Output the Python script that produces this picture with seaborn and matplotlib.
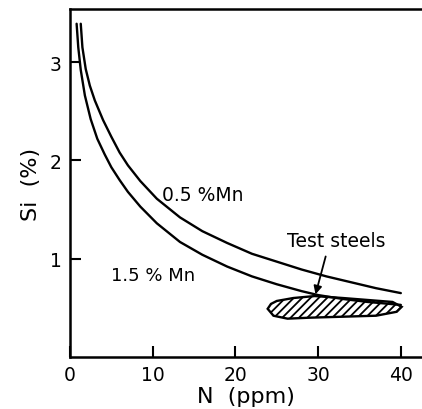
import matplotlib
matplotlib.use("Agg")
import matplotlib.pyplot as plt
import seaborn as sns
import pandas as pd

# 0.5 % Mn curve
n_05 = [1.3, 1.5, 1.9, 2.4, 3.0, 4.0, 5.0, 6.0, 7.0, 8.5, 10.5, 13.3, 16, 19, 22, 25, 28, 31, 34, 37, 40]
si_05 = [3.39, 3.15, 2.93, 2.76, 2.61, 2.41, 2.24, 2.08, 1.95, 1.79, 1.61, 1.42, 1.28, 1.16, 1.05, 0.97, 0.89, 0.82, 0.76, 0.70, 0.65]
# 1.5 % Mn curve
n_15 = [0.8, 1.0, 1.3, 1.8, 2.5, 3.3, 4.2, 5.0, 6.0, 7.0, 8.5, 10.5, 13.3, 16, 19, 22, 25, 28, 30, 33, 36, 40]
si_15 = [3.39, 3.15, 2.92, 2.66, 2.42, 2.22, 2.06, 1.93, 1.80, 1.68, 1.53, 1.36, 1.17, 1.04, 0.92, 0.82, 0.74, 0.67, 0.63, 0.59, 0.56, 0.53]
# test steels region outline
blob_n = [23.9, 24.3, 25.0, 27.0, 29.6, 33.0, 36.0, 39.0, 40.1, 39.5, 37.0, 33.0, 29.0, 26.3, 24.6, 23.9]
blob_si = [0.49, 0.54, 0.57, 0.60, 0.62, 0.60, 0.58, 0.56, 0.51, 0.46, 0.42, 0.41, 0.40, 0.39, 0.42, 0.49]

x_ticks = [0, 10, 20, 30, 40]
y_ticks = [1, 2, 3]

df = pd.concat([
    pd.DataFrame({"N": n_05, "Si": si_05, "Mn": "0.5"}),
    pd.DataFrame({"N": n_15, "Si": si_15, "Mn": "1.5"}),
])

sns.set_style("white")
plt.rcParams['font.family'] = ['DejaVu Sans']
plt.rcParams['text.color'] = 'black'
plt.rcParams['axes.labelcolor'] = 'black'
plt.rcParams['hatch.linewidth'] = 1.3

fig = plt.figure(figsize=(4.22, 4.10), dpi=100)
ax = fig.add_axes([70/422, 1-358/410, 1-70/422, 348/410])

sns.lineplot(data=df, x="N", y="Si", hue="Mn", palette=["black", "black"],
             linewidth=1.7, legend=False, sort=False, ax=ax)

ax.fill(blob_n, blob_si, facecolor="white", edgecolor="black", hatch="////", linewidth=1.7)

ax.annotate("", xy=(29.6, 0.61), xytext=(31.0, 1.05),
            arrowprops=dict(arrowstyle="-|>", color="black", lw=1.3, mutation_scale=12))
ax.text(32.2, 1.18, "Test steels", ha="center", va="center", fontsize=13.5)
ax.text(16.0, 1.65, "0.5 %Mn", ha="center", va="center", fontsize=13.5)
ax.text(10.0, 0.83, "1.5 % Mn", ha="center", va="center", fontsize=13)

ax.set_xlim(0, 42.56)
ax.set_ylim(0, 3.54)
ax.set_xticks(x_ticks)
ax.set_yticks(y_ticks)
ax.set_xticklabels([str(v) for v in x_ticks])
ax.set_yticklabels([str(v) for v in y_ticks])
ax.tick_params(direction="in", length=8, width=1.5, labelsize=13.5, colors="black",
               labelcolor="black", pad=6, bottom=True, left=True)
ax.set_xlabel("N  (ppm)", fontsize=16, labelpad=1)
ax.set_ylabel("Si  (%)", fontsize=16, labelpad=6)

for s in ["left", "bottom", "top"]:
    ax.spines[s].set_linewidth(1.8)
    ax.spines[s].set_color("black")
ax.spines["right"].set_visible(False)

fig.savefig("out.png", dpi=100)
